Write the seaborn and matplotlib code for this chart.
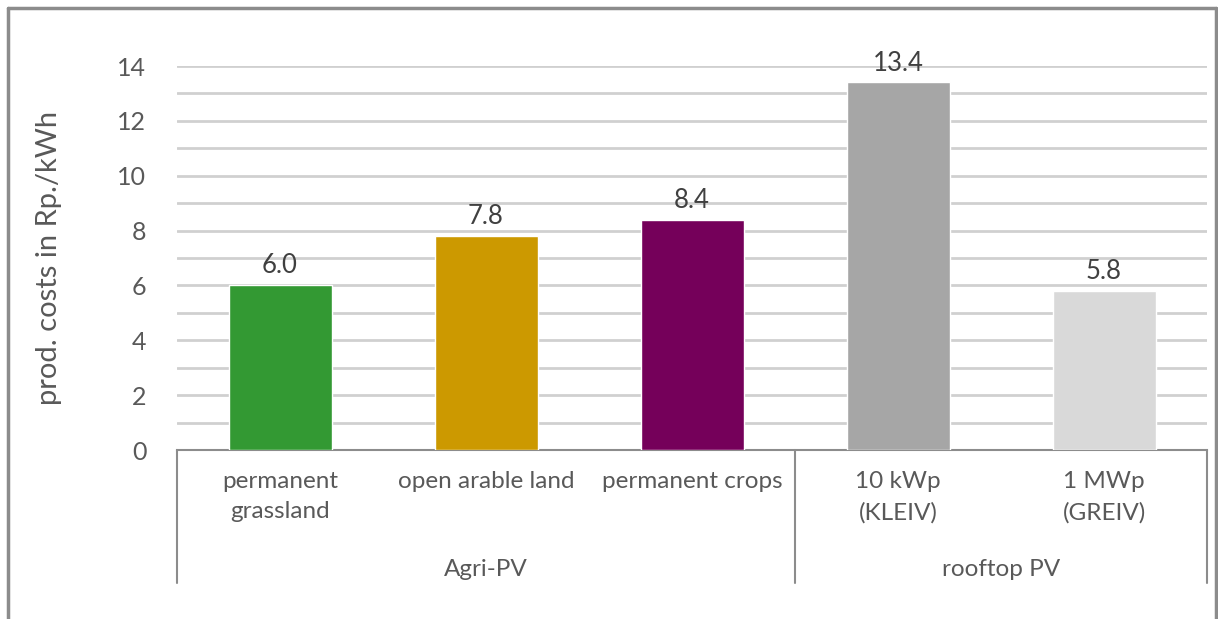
import matplotlib
matplotlib.use('Agg')
import matplotlib.pyplot as plt
import matplotlib.transforms as mtransforms
import pandas as pd
import seaborn as sns

# data
categories = ['permanent\ngrassland', 'open arable land', 'permanent crops',
              '10 kWp\n(KLEIV)', '1 MWp\n(GREIV)']
costs = [6.0, 7.8, 8.4, 13.4, 5.8]
groups = ['Agri-PV', 'rooftop PV']
group_sizes = [3, 2]
bar_colors = ['#339933', '#CC9900', '#75005A', '#A6A6A6', '#D9D9D9']

sns.set_style('white')
plt.rcParams['font.family'] = ['Lato', 'DejaVu Sans']
text_grey = '#595959'

df = pd.DataFrame({'category': categories, 'cost': costs})

fig = plt.figure(figsize=(12.18, 6.19), dpi=100)
ax = fig.add_axes([177 / 1218, 1 - 450 / 619, 1030 / 1218, 384 / 619])

sns.barplot(data=df, x='category', y='cost', hue='category',
            palette=bar_colors, width=0.5, saturation=1, legend=False,
            ax=ax, zorder=3)

ax.set_ylim(0, 14)
ax.set_xlim(-0.5, len(categories) - 0.5)
ax.set_yticks(range(0, 15, 2))
ax.set_yticks(range(0, 15), minor=True)
ax.grid(axis='y', which='both', color='#D0D0D0', linewidth=2, zorder=0)
ax.tick_params(axis='y', which='both', length=0, labelsize=18,
               labelcolor=text_grey, pad=22)
ax.tick_params(axis='x', length=0, labelbottom=False)
for side in ['top', 'right', 'left']:
    ax.spines[side].set_visible(False)
ax.spines['bottom'].set_color('#8C8C8C')
ax.spines['bottom'].set_linewidth(1.5)
ax.set_xlabel('')
ax.set_ylabel('prod. costs in Rp./kWh', fontsize=21, color=text_grey, labelpad=40)

for cont in ax.containers:
    ax.bar_label(cont, fmt='%.1f', fontsize=18.5, color='#404040', padding=5)

# category and group labels below the axis
trans = mtransforms.blended_transform_factory(ax.transData, ax.transAxes)
for i, lab in enumerate(categories):
    ax.text(i, -0.055, lab, transform=trans, ha='center', va='top',
            fontsize=17.5, color=text_grey, linespacing=1.55)

start = -0.5
bounds = [start]
for name, n in zip(groups, group_sizes):
    ax.text(start + n / 2, -0.31, name, transform=trans, ha='center',
            va='center', fontsize=17.5, color=text_grey)
    start += n
    bounds.append(start)
for b in bounds:
    ax.plot([b, b], [0, -133 / 384], transform=trans, color='#8C8C8C',
            linewidth=1.5, clip_on=False)

# outer chart border (bottom edge runs off the image)
fig.add_artist(plt.Line2D([8 / 1218, 8 / 1218], [0, 1 - 8 / 619],
                          color='#8C8C8C', linewidth=2.5))
fig.add_artist(plt.Line2D([8 / 1218, 1216 / 1218], [1 - 8 / 619, 1 - 8 / 619],
                          color='#8C8C8C', linewidth=2.5))
fig.add_artist(plt.Line2D([1216 / 1218, 1216 / 1218], [0, 1 - 8 / 619],
                          color='#8C8C8C', linewidth=2.5))

fig.savefig('out.png', dpi=100)
